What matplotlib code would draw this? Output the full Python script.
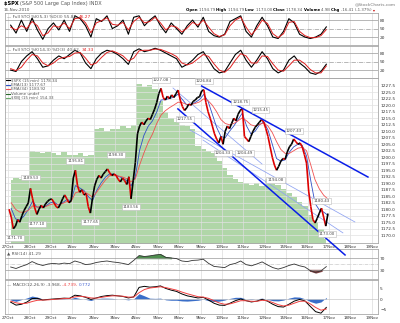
import matplotlib.pyplot as plt
import numpy as np
from matplotlib.collections import LineCollection
from matplotlib.lines import Line2D

days = ['27Oct', '28Oct', '29Oct', '1Nov', '2Nov', '3Nov', '4Nov', '5Nov', '8Nov', '9Nov',
        '10Nov', '11Nov', '12Nov', '15Nov', '16Nov', '17Nov', '18Nov', '19Nov']

# $SPX 15 min closes, 10 per session
close = [
    1180.0, 1177.0, 1172.5, 1173.5, 1176.0, 1175.0, 1177.5, 1179.5, 1181.0, 1182.45,
    1188.0, 1184.0, 1180.5, 1178.0, 1180.0, 1181.5, 1180.5, 1182.0, 1183.0, 1183.78,
    1183.9, 1182.5, 1181.0, 1180.5, 1182.0, 1184.0, 1185.5, 1184.0, 1182.5, 1183.26,
    1192.0, 1195.0, 1189.0, 1186.5, 1187.5, 1185.5, 1186.0, 1181.0, 1178.5, 1184.38,
    1189.0, 1191.5, 1193.0, 1192.0, 1193.5, 1194.5, 1195.5, 1194.0, 1193.0, 1193.57,
    1193.0, 1191.5, 1190.5, 1192.0, 1191.0, 1189.5, 1192.5, 1184.0, 1191.0, 1197.96,
    1209.0, 1212.0, 1213.5, 1212.5, 1214.0, 1215.0, 1214.5, 1216.5, 1218.5, 1221.06,
    1224.5, 1226.5, 1223.0, 1222.0, 1223.5, 1222.5, 1224.0, 1223.0, 1224.5, 1225.85,
    1222.0, 1219.5, 1218.0, 1219.0, 1220.5, 1220.0, 1221.5, 1222.0, 1223.0, 1223.25,
    1225.5, 1226.0, 1221.0, 1217.5, 1215.0, 1212.0, 1209.0, 1207.0, 1205.5, 1208.0,
    1205.0, 1210.0, 1212.0, 1211.0, 1213.0, 1215.0, 1214.0, 1216.5, 1218.0, 1218.71,
    1208.0, 1207.0, 1206.0, 1208.0, 1210.0, 1211.5, 1212.5, 1213.5, 1214.5, 1213.54,
    1211.0, 1208.0, 1204.0, 1200.0, 1197.0, 1195.0, 1196.5, 1198.5, 1199.5, 1199.21,
    1202.0, 1204.0, 1205.0, 1207.0, 1206.0, 1205.0, 1205.5, 1204.0, 1201.0, 1197.75,
    1187.0, 1181.0, 1176.0, 1174.7, 1176.5, 1178.5, 1180.4, 1177.0, 1173.5, 1178.34,
]

# moving averages, 5 per session
ema13 = [
    1180.3, 1176.3, 1175.8, 1177.4, 1179.9, 1183.1, 1180.8, 1180.8, 1181.1, 1182.4,
    1182.8, 1181.6, 1182.5, 1183.7, 1183.3, 1189.1, 1188.2, 1187.2, 1184.9, 1183.3,
    1187.3, 1190.1, 1192.3, 1193.6, 1193.5, 1192.7, 1192.0, 1191.0, 1189.0, 1192.5,
    1202.7, 1208.4, 1211.9, 1214.0, 1217.4, 1222.0, 1222.2, 1222.6, 1223.1, 1224.3,
    1222.2, 1220.2, 1220.2, 1221.1, 1222.2, 1224.2, 1221.5, 1216.5, 1211.5, 1208.0,
    1207.5, 1210.0, 1212.0, 1214.5, 1217.0, 1212.0, 1209.0, 1210.0, 1212.5, 1213.6,
    1210.5, 1205.0, 1199.5, 1198.5, 1199.0, 1202.0, 1204.0, 1205.0, 1204.5, 1200.5,
    1190.9, 1182.2, 1179.7, 1178.9, 1177.67,
]
ema34 = [
    1182.5, 1180.0, 1178.9, 1178.8, 1179.6, 1181.3, 1180.9, 1180.8, 1181.0, 1181.7,
    1182.1, 1181.7, 1182.2, 1183.0, 1183.0, 1186.3, 1186.8, 1186.7, 1185.8, 1184.7,
    1186.6, 1189.0, 1191.2, 1192.9, 1193.0, 1192.8, 1192.4, 1191.8, 1190.6, 1191.7,
    1197.0, 1201.6, 1205.7, 1208.9, 1213.0, 1216.2, 1217.9, 1219.1, 1220.1, 1221.2,
    1221.0, 1220.3, 1220.3, 1220.7, 1221.3, 1222.5, 1221.8, 1220.0, 1217.5, 1214.5,
    1213.0, 1212.5, 1213.0, 1214.0, 1215.2, 1214.0, 1212.5, 1212.0, 1212.6, 1213.2,
    1212.0, 1209.5, 1206.0, 1203.0, 1201.5, 1201.5, 1202.5, 1203.5, 1203.8, 1202.5,
    1197.0, 1191.3, 1187.8, 1185.4, 1183.92,
]

# overlay symbol drawn as shaded area, 4 per session
xbj = [
    156.40, 156.50, 156.45, 156.50, 157.45, 157.40, 157.35, 157.40,
    157.35, 157.30, 157.40, 157.30, 157.30, 157.35, 157.25, 157.30,
    158.20, 158.25, 158.15, 158.20, 158.20, 158.30, 158.25, 158.35,
    159.80, 159.70, 159.75, 159.60, 159.20, 158.80, 158.60, 158.45,
    158.35, 158.30, 158.20, 157.60, 157.50, 157.45, 157.35, 157.10,
    156.85, 156.60, 156.45, 156.35, 156.30, 156.25, 156.30, 156.20,
    156.45, 156.35, 156.25, 156.10, 155.95, 155.80, 155.65, 155.50,
    155.20, 154.95, 154.70, 154.33,
]

# oscillators, 4 per session
sto5_k = [62, 34, 80, 40, 87, 45, 12, 50, 70, 45, 80, 40, 95, 85, 60, 20,
          85, 75, 95, 50, 60, 80, 30, 90, 95, 60, 80, 95, 60, 35, 70, 50,
          30, 60, 80, 55, 90, 40, 25, 20, 30, 75, 85, 95, 40, 20, 60, 90,
          60, 20, 15, 40, 85, 70, 30, 20, 15, 20, 30, 55.88]
sto5_d = [55, 45, 60, 50, 75, 60, 25, 35, 60, 55, 70, 50, 85, 88, 70, 35,
          70, 78, 88, 65, 62, 72, 45, 75, 90, 70, 75, 90, 70, 45, 60, 55,
          38, 52, 72, 62, 80, 55, 32, 22, 28, 60, 80, 90, 55, 28, 50, 80,
          68, 32, 18, 32, 72, 75, 40, 25, 18, 18, 25, 46.27]
sto14_k = [20, 15, 50, 70, 85, 60, 30, 35, 55, 70, 60, 75, 90, 80, 45, 25,
           60, 80, 90, 85, 75, 60, 40, 85, 95, 85, 90, 97, 90, 80, 70, 60,
           30, 40, 55, 75, 85, 55, 25, 10, 15, 45, 75, 90, 55, 30, 55, 85,
           60, 25, 10, 20, 55, 70, 45, 30, 10, 5, 15, 40.62]
sto14_d = [25, 18, 30, 55, 75, 70, 45, 35, 45, 60, 65, 68, 80, 82, 62, 38,
           45, 65, 82, 88, 80, 70, 52, 62, 88, 90, 90, 94, 93, 86, 78, 68,
           45, 38, 45, 60, 75, 68, 42, 20, 12, 28, 55, 78, 70, 45, 45, 70,
           68, 42, 20, 16, 35, 55, 55, 42, 22, 10, 10, 34.33]
rsi = [40, 35, 42, 48, 58, 50, 45, 50, 52, 50, 53, 51, 60, 55, 48, 50,
       55, 58, 60, 57, 55, 52, 48, 62, 78, 75, 77, 80, 82, 72, 70, 68,
       60, 58, 62, 63, 66, 52, 42, 40, 38, 48, 52, 60, 48, 44, 50, 57,
       47, 38, 33, 38, 45, 50, 44, 40, 28, 22, 27, 41.29]
macd = [-1.5, -2.9, -2.5, -1.5, 0.2, 0.3, -0.5, -0.2, 0.0, 0.2, 0.4, 0.3,
        1.8, 1.5, 0.8, -0.2, 0.5, 1.2, 1.6, 1.8, 1.5, 1.2, 0.5, 1.0,
        5.5, 6.0, 5.6, 5.8, 6.2, 5.0, 4.2, 3.6, 2.4, 1.5, 1.0, 0.5,
        0.8, -0.5, -2.0, -2.9, -3.0, -2.0, -0.8, 0.0, -0.8, -1.4, -1.0, -0.2,
        -1.0, -2.5, -3.6, -3.8, -2.5, -1.0, -0.2, -0.9, -3.5, -6.0, -6.7, -3.968]
signal = [-1.0, -1.8, -2.2, -2.0, -1.2, -0.6, -0.5, -0.4, -0.2, 0.0, 0.2, 0.3,
          1.0, 1.3, 1.0, 0.5, 0.4, 0.8, 1.2, 1.5, 1.5, 1.3, 0.9, 0.9,
          3.0, 4.5, 5.2, 5.5, 5.8, 5.4, 4.8, 4.2, 3.3, 2.5, 1.8, 1.1,
          0.9, 0.3, -0.8, -1.9, -2.5, -2.3, -1.6, -0.8, -0.8, -1.1, -1.1, -0.6,
          -0.8, -1.7, -2.7, -3.3, -2.9, -2.0, -1.1, -1.0, -2.3, -4.0, -5.3, -4.739]

# swing annotations: (session position, price, below the bar?)
swings = [(0.3, 1171.70, True), (1.05, 1189.53, False), (1.35, 1177.10, True),
          (3.15, 1195.81, False), (3.85, 1177.65, True), (5.05, 1198.30, False),
          (5.75, 1183.56, True), (7.15, 1227.08, False), (8.25, 1217.55, True),
          (9.15, 1226.84, False), (10.05, 1204.33, True), (10.85, 1218.75, False),
          (11.05, 1204.49, True), (11.8, 1215.45, False), (12.5, 1194.08, True),
          (13.35, 1207.43, False), (14.65, 1180.43, False), (14.9, 1173.00, True)]

# drawn trend lines: ((x0, p0), (x1, p1), thick?)
trend_lines = [((9.05, 1227.4), (16.82, 1192.4), True),
               ((7.94, 1218.6), (15.75, 1162.4), True),
               ((7.71, 1226.65), (11.87, 1197.4), False),
               ((8.50, 1210.5), (16.21, 1175.1), False),
               ((9.11, 1206.65), (15.65, 1170.9), False)]

W, H = 400, 323
fig = plt.figure(figsize=(W / 100, H / 100), dpi=100)
fs = 3.1
grey = '#555555'

# full-figure layer for the header texts
hdr = fig.add_axes([0, 0, 1, 1])
hdr.set_xlim(0, W)
hdr.set_ylim(H, 0)
hdr.axis('off')


def panel(top, bottom):
    ax = fig.add_axes([5 / W, 1 - bottom / H, 373 / W, (bottom - top) / H])
    ax.set_xlim(-0.14, 17.29)
    for s in ax.spines.values():
        s.set_color('#a8a8a8')
        s.set_linewidth(0.6)
    ax.set_xticks(range(len(days)))
    ax.set_xticklabels([])
    ax.yaxis.tick_right()
    ax.tick_params(length=0, labelsize=fs, colors='#333333', pad=1.5)
    ax.grid(axis='x', color='#dcdcdc', lw=0.5)
    ax.set_axisbelow(True)
    return ax


def chain(ax, x, y, parts, size=fs, transform=None):
    # consecutive text pieces, each starting where the previous one ends
    txt, col, w = parts[0]
    prev = ax.text(x, y, txt, transform=transform or ax.transData, fontsize=size, color=col,
                   weight=w, va='center')
    for txt, col, w in parts[1:]:
        prev = ax.annotate(txt, xy=(1, 0.5), xycoords=prev, va='center', ha='left',
                           fontsize=size, color=col, weight=w)
    return prev


t10 = np.arange(len(close)) / 10 + 0.05
t5 = np.arange(len(ema13)) / 5 + 0.15
t4 = np.arange(len(rsi)) / 4 + 0.125

# header
chain(hdr, 4, 4, [('$SPX ', 'k', 'bold'), ('(S&P 500 Large Cap Index) INDX', grey, 'normal')], size=3.6)
hdr.text(4, 10, '16-Nov-2010', fontsize=3.0, color=grey, va='center')
hdr.text(396, 4, '@StockCharts.com', fontsize=3.2, color='#777777', va='center', ha='right')
quote = [('Open ', 'k', 'bold'), ('1194.79 ', grey, 'normal'), ('High ', 'k', 'bold'),
         ('1194.79 ', grey, 'normal'), ('Low ', 'k', 'bold'), ('1173.00 ', grey, 'normal'),
         ('Close ', 'k', 'bold'), ('1178.34 ', grey, 'normal'), ('Volume ', 'k', 'bold'),
         ('4.9B ', grey, 'normal'), ('Chg ', 'k', 'bold'), ('-16.41 (-1.37%) ', grey, 'normal'),
         ('\u25be', '#cc0000', 'normal')]
chain(hdr, 186, 10, quote, size=2.75)


def sto_panel(top, bottom, k, d, title):
    ax = panel(top, bottom)
    ax.set_ylim(-8, 105)
    ax.set_yticks([20, 50, 80])
    for lvl, ls in [(20, '-'), (80, '-'), (50, '-.')]:
        ax.axhline(lvl, color='#9a9a9a', lw=0.5, ls=ls)
    ax.plot(t4, k, color='#000000', lw=0.8)
    ax.plot(t4, d, color='#e02020', lw=0.7)
    chain(ax, 0.005, 0.86, [('\u2014 ' + title + ' %.2f, ' % k[-1], grey, 'normal'),
                             ('%.2f' % d[-1], '#e02020', 'normal')], transform=ax.transAxes)
    return ax


sto_panel(13, 45, sto5_k, sto5_d, 'Full STO %K(5,3) %D(3)')
sto_panel(46, 78, sto14_k, sto14_d, 'Full STO %K(14,3) %D(3)')

# main price panel
ax = panel(78, 243)
gax = ax.twinx()
gax.set_ylim(154.2, 160.0)
gax.fill_between(t4, xbj, 150, color='#b0d6a8', lw=0, step='mid')
gax.set_yticks([])
for s in gax.spines.values():
    s.set_visible(False)
ax.set_zorder(gax.get_zorder() + 1)
ax.patch.set_visible(False)
ax.yaxis.tick_right()

ax.set_ylim(1167.0, 1230.5)
ticks = np.arange(1170.0, 1228.0, 2.5)
ax.set_yticks(ticks)
ax.set_yticklabels(['%.1f' % v for v in ticks])
ax.grid(axis='y', color='#e2e2e2', lw=0.5)

pts = np.column_stack([t10, close])
segs = np.stack([pts[:-1], pts[1:]], axis=1)
cols = ['#000000' if b >= a else '#dd0000' for a, b in zip(close[:-1], close[1:])]
ax.add_collection(LineCollection(segs, colors=cols, linewidths=1.2, zorder=4))
ax.plot(t5, ema13, color='#3050c8', lw=0.6, zorder=3)
ax.plot(t5, ema34, color='#f05050', lw=0.6, zorder=3)

for (x0, p0), (x1, p1), thick in trend_lines:
    if thick:
        ax.plot([x0, x1], [p0, p1], color='#0a1ee8', lw=1.1, clip_on=False, zorder=5)
    else:
        ax.plot([x0, x1], [p0, p1], color='#8ea2f2', lw=0.55, zorder=2)

for x, p, below in swings:
    ax.annotate('%.2f' % p, (x, p), xytext=(0, -5 if below else 5), textcoords='offset points',
                ha='center', va='center', fontsize=2.8, color='#444444', zorder=6,
                bbox=dict(boxstyle='square,pad=0.25', fc='white', ec='#bbbbbb', lw=0.4))

legend = [('$SPX (15 min) 1178.34', '#000000'), ('EMA(13) 1177.67', '#3050c8'),
          ('EMA(34) 1183.92', '#f05050'), ('Volume undef', '#2a6a2a'),
          ('$XBJ (15 min) 154.33', '#6aaa6a')]
for i, (txt, c) in enumerate(legend):
    yy = 0.985 - i * 0.027
    ax.add_line(Line2D([0.004, 0.014], [yy, yy], transform=ax.transAxes, color=c, lw=0.8))
    ax.text(0.017, yy, txt, transform=ax.transAxes, fontsize=2.9, color=grey, va='center')

ax.set_xticklabels(days)
ax.tick_params(axis='x', pad=1.2, labelsize=3.0)

# RSI
rax = panel(249, 279)
rax.set_ylim(0, 100)
rax.set_yticks([30, 70])
rax.axhline(70, color='#9a9a9a', lw=0.5)
rax.axhline(30, color='#9a9a9a', lw=0.5)
rax.axhline(50, color='#bbbbbb', lw=0.4, ls='-.')
rax.plot(t4, rsi, color='#333333', lw=0.6)
r = np.array(rsi)
rax.fill_between(t4, r, 70, where=r > 70, interpolate=True, color='#4f8f4f')
rax.fill_between(t4, r, 30, where=r < 30, interpolate=True, color='#8a4545')
rax.text(0.005, 0.86, '\u25b2 RSI(14) 41.29', transform=rax.transAxes, fontsize=fs, color=grey, va='center')

# MACD
max_ = panel(280, 314)
max_.set_ylim(-7.1, 9.0)
max_.set_yticks([-5, 0, 5])
max_.axhline(0, color='#bbbbbb', lw=0.4)
m = np.array(macd)
s = np.array(signal)
max_.fill_between(t4, m - s, 0, color='#3a6ec8', lw=0)
max_.plot(t4, m, color='#000000', lw=0.7)
max_.plot(t4, s, color='#f04040', lw=0.7)
chain(max_, 0.005, 0.86, [('\u2014 MACD(12,26,9) -3.968, ', grey, 'normal'),
                          ('-4.739, ', '#f04040', 'normal'), ('0.772', '#4060d0', 'normal')],
      transform=max_.transAxes)
max_.set_xticklabels(days)
max_.tick_params(axis='x', pad=1.2, labelsize=3.0)

fig.savefig('out.png', dpi=100)
